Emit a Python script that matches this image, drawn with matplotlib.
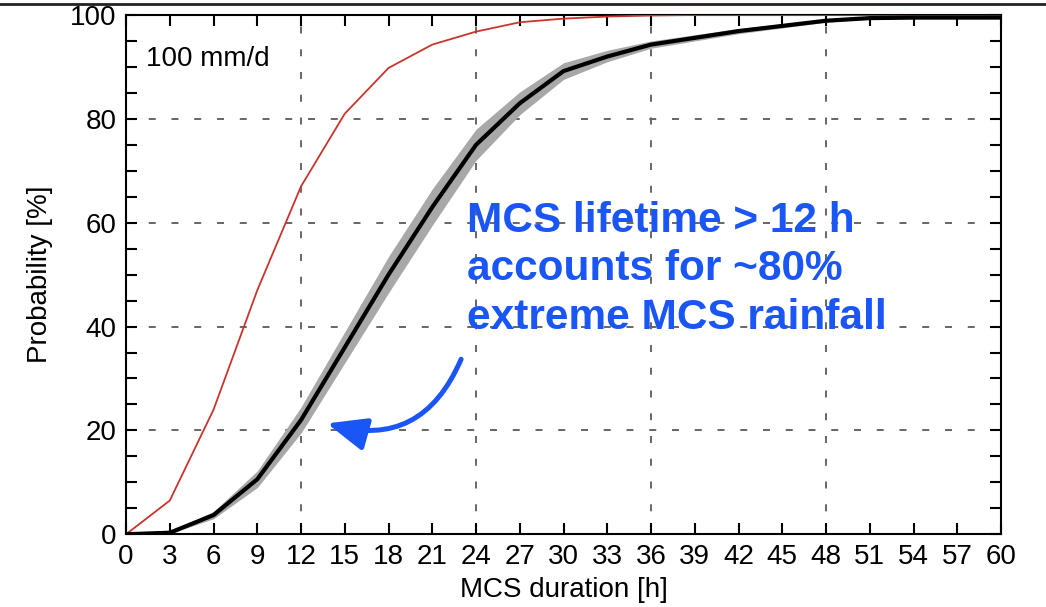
import matplotlib.pyplot as plt
from matplotlib.lines import Line2D
import numpy as np

plt.rcParams['font.family'] = ['Liberation Sans', 'DejaVu Sans']

# CDF of MCS duration for extreme rainfall (100 mm/d)
hours = [0, 3, 6, 9, 12, 15, 18, 21, 24, 27, 30, 33, 36, 39, 42, 45, 48, 51, 54, 57, 60]
red_prob = [0, 6.5, 24, 47, 67, 81, 89.8, 94.3, 96.8, 98.6, 99.3, 99.7, 99.9, 100, 100,
            100, 100, 100, 100, 100, 100]
black_prob = [0, 0.3, 3.7, 10.6, 22, 36, 50, 63, 75, 83, 89.2, 92, 94.3, 95.6, 96.9,
              97.9, 98.9, 99.4, 99.5, 99.5, 99.5]
band_low = [0, 0.1, 3.0, 9.0, 19.5, 33.0, 46.5, 59.5, 72.0, 80.8, 87.6, 91.0, 93.6, 95.0,
            96.4, 97.5, 98.6, 99.2, 99.3, 99.3, 99.3]
band_high = [0, 0.5, 4.4, 12.2, 24.5, 39.0, 53.5, 66.5, 78.0, 85.2, 90.8, 93.2, 95.0, 96.2,
             97.4, 98.3, 99.2, 99.6, 99.7, 99.7, 99.7]

fig = plt.figure(figsize=(10.46, 6.07), dpi=100)
ax = fig.add_axes([0.1205, 0.1198, 0.8365, 0.8555])

grid_kw = dict(color='#666666', lw=1.4, ls=(0, (3.6, 8.1)), zorder=1)
for gx in [12, 24, 36, 48]:
    ax.axvline(gx, **grid_kw)
for gy in [20, 40, 60, 80]:
    ax.axhline(gy, **grid_kw)

ax.fill_between(hours, band_low, band_high, color='#a8a8a8', lw=0, zorder=2)
ax.plot(hours, red_prob, color='#c8352c', lw=1.3, zorder=3)
ax.plot(hours, black_prob, color='black', lw=3, zorder=4)

ax.set_xlim(0, 60)
ax.set_ylim(0, 100)
ax.set_xticks(np.arange(0, 61, 3))
ax.set_yticks(np.arange(0, 101, 20))
ax.set_yticks(np.arange(0, 101, 5), minor=True)
ax.tick_params(which='both', direction='in', top=True, right=True, length=8, width=1.5,
               labelsize=20, pad=7)
for sp in ax.spines.values():
    sp.set_linewidth(1.5)

ax.set_xlabel('MCS duration [h]', fontsize=20, labelpad=5)
ax.set_ylabel('Probability [%]', fontsize=20, labelpad=12)

ax.text(1.4, 91.5, '100 mm/d', fontsize=20, va='center')

ax.text(23.4, 51.0, 'MCS lifetime > 12 h\naccounts for ~80%\nextreme MCS rainfall',
        color='#1a55f5', fontsize=30.5, fontweight='bold', va='center', ha='left',
        linespacing=1.28, zorder=5)
ax.annotate('', xy=(13.6, 21.5), xytext=(23.05, 34.2),
            arrowprops=dict(arrowstyle='-|>,head_length=2.4,head_width=1.0',
                            color='#1a55f5', lw=3.6,
                            connectionstyle='arc3,rad=-0.45'), zorder=5)

fig.add_artist(Line2D([0, 1], [0.9934, 0.9934], color='#222222', lw=2,
                      transform=fig.transFigure))

plt.savefig('out.png', dpi=100)
